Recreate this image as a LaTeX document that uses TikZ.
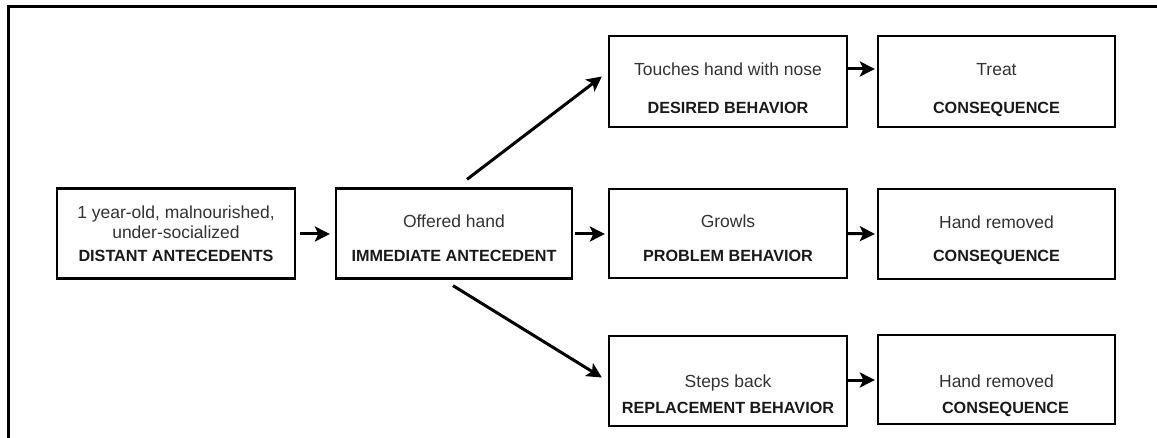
\documentclass[tikz,border=0pt]{standalone}
\usepackage{fontspec}
\setmainfont{Liberation Sans}
\usetikzlibrary{arrows.meta,calc}
\definecolor{txtreg}{HTML}{333333}
\definecolor{txtbold}{HTML}{1A1A1A}
\tikzset{
  box/.style={draw=black, line width=2.3pt, minimum width=238pt, minimum height=90pt, inner sep=0pt},
  reg/.style={anchor=base, inner sep=0pt, text=txtreg, font=\fontsize{17.5}{20}\selectfont},
  bld/.style={anchor=base, inner sep=0pt, text=txtbold, font=\fontsize{16.2}{19}\selectfont\bfseries},
  arr/.style={line width=3pt, -{Stealth[length=15pt, width=15pt, inset=3.5pt]}},
  frame/.style={line width=3pt}
}
\begin{document}
\begin{tikzpicture}[x=1pt, y=-1pt]
\useasboundingbox (0,0) rectangle (1157,438);
% frame
\coordinate (f1) at (8,438);
\coordinate (f2) at (8,7);
\coordinate (f3) at (1157,7);
\draw[frame] (f1) -- (f2) -- (f3);

% boxes
\node[box] (A) at (176,233.5) {};
\node[box, minimum width=236pt] (B) at (454,233.5) {};
\node[box, minimum height=91pt] (C) at (728,81.5) {};
\node[box, minimum height=89pt] (D) at (728,233.5) {};
\node[box, minimum width=237pt, minimum height=91pt] (E) at (996.5,81.5) {};
\node[box, minimum width=237pt] (F) at (996.5,234) {};
\node[box] (G) at (728,381) {};
\node[box, minimum width=237pt, minimum height=89pt] (H) at (996.5,379.5) {};

% texts
\node[reg] (A1) at (176,219) {1 year-old, malnourished,};
\node[reg] (A2) at (176,239) {under-socialized};
\node[bld] (A3) at (176,262) {DISTANT ANTECEDENTS};

\node[reg] (B1) at (454,228) {Offered hand};
\node[bld] (B2) at (454,262) {IMMEDIATE ANTECEDENT};

\node[reg] (C1) at (728,76) {Touches hand with nose};
\node[bld] (C2) at (728,114) {DESIRED BEHAVIOR};

\node[reg] (D1) at (728,228) {Growls};
\node[bld] (D2) at (728,262) {PROBLEM BEHAVIOR};

\node[reg] (E1) at (996.5,76) {Treat};
\node[bld] (E2) at (996.5,114) {CONSEQUENCE};

\node[reg] (F1) at (996.5,229) {Hand removed};
\node[bld] (F2) at (996.5,262) {CONSEQUENCE};

\node[reg] (G1) at (728,388) {Steps back};
\node[bld] (G2) at (728,413) {REPLACEMENT BEHAVIOR};

\node[reg] (H1) at (996.5,388) {Hand removed};
\node[bld] (H2) at (1005.5,413) {CONSEQUENCE};

% connectors
\draw[arr] ($(A.east)+(4,0.5)$) -- ($(B.west)+(-5,0.5)$);
\draw[arr] ($(B.east)+(2,0.5)$) -- ($(D.west)+(-3,0.5)$);
\draw[arr] ($(C.east)+(0,-12.5)$) -- ($(E.west)+(-2,-12.5)$);
\draw[arr] ($(D.east)+(0,0)$) -- ($(F.west)+(-2,0)$);
\draw[arr] ($(G.east)+(0,-1)$) -- ($(H.west)+(-2,0.5)$);
\draw[arr] ($(B.north)+(13,-8)$) -- ($(C.west)+(-6,-5)$);
\draw[arr] ($(B.south)+(-1,6)$) -- ($(G.west)+(-6,-3.5)$);
\end{tikzpicture}
\end{document}
